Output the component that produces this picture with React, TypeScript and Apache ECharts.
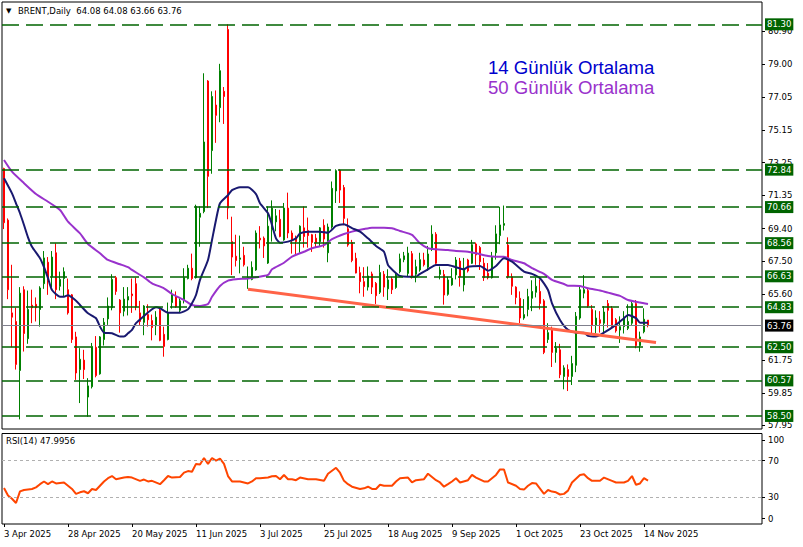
import React, { useEffect, useRef } from 'react';
import * as echarts from 'echarts';

// ---- data ----
// candles: [open, close, low, high]
const candles: number[][] = [
  [72.9, 69.75, 69.38, 72.95], [69.9, 65.85, 65.3, 70.0], [64.5, 64.25, 62.5, 67.3], [64.0, 61.5, 61.2, 64.8],
  [61.15, 65.65, 58.3, 66.0], [65.85, 63.3, 62.25, 66.05], [63.0, 64.7, 62.7, 65.8], [64.95, 64.8, 63.9, 65.85],
  [65.0, 64.8, 64.0, 65.4], [64.7, 65.95, 63.7, 66.05], [66.2, 67.7, 65.9, 68.1], [67.45, 66.4, 65.55, 67.75],
  [66.6, 67.75, 66.0, 68.1], [68.0, 65.85, 65.3, 68.55], [66.05, 66.45, 65.8, 66.9], [66.5, 66.9, 65.45, 67.15],
  [65.85, 64.5, 64.4, 66.5], [65.55, 62.95, 62.75, 65.6], [63.1, 61.0, 60.6, 63.4], [61.2, 61.8, 59.25, 62.45],
  [61.75, 61.2, 60.65, 62.35], [59.6, 60.25, 58.45, 60.7], [60.2, 62.55, 60.1, 62.75], [62.5, 60.85, 60.75, 63.15],
  [60.95, 63.1, 60.9, 63.15], [62.95, 63.95, 62.6, 64.2], [64.15, 64.9, 63.8, 65.4], [64.8, 66.45, 64.65, 66.75],
  [66.55, 65.75, 65.55, 66.65], [65.25, 64.5, 63.35, 65.3], [64.6, 65.3, 64.3, 66.0], [65.25, 65.45, 64.35, 66.0],
  [65.6, 65.5, 64.5, 66.5], [66.2, 64.85, 64.65, 66.55], [64.5, 64.0, 63.8, 65.2], [63.95, 64.9, 63.2, 64.95],
  [64.4, 64.1, 63.7, 65.0], [64.05, 63.65, 62.9, 64.4], [63.75, 64.25, 63.2, 64.6], [64.65, 62.9, 62.85, 64.85],
  [63.25, 62.55, 61.95, 63.7], [62.95, 64.5, 62.9, 65.1], [65.1, 65.55, 64.75, 65.85], [65.45, 64.85, 64.8, 65.75],
  [64.65, 65.2, 64.55, 65.35], [65.25, 66.55, 65.05, 67.1], [66.5, 67.1, 66.45, 67.3], [67.1, 66.5, 66.4, 67.95],
  [66.55, 70.7, 66.5, 70.8], [70.07, 70.3, 68.35, 70.7], [70.4, 74.45, 70.3, 78.45], [78.0, 72.45, 70.6, 78.05],
  [73.95, 77.1, 72.6, 77.4], [76.6, 76.0, 74.4, 77.45], [76.45, 78.6, 75.6, 79.0], [77.4, 77.1, 75.5, 77.65],
  [81.0, 70.6, 69.95, 81.3], [68.65, 67.75, 66.7, 70.1], [67.8, 67.55, 67.2, 69.05], [67.62, 67.7, 66.8, 69.0],
  [67.85, 67.3, 67.2, 68.35], [66.5, 66.55, 65.9, 67.2], [66.45, 67.15, 66.4, 67.5], [67.0, 69.15, 66.95, 69.3],
  [68.85, 68.75, 68.25, 69.55], [68.85, 68.4, 67.7, 68.95], [67.4, 69.55, 67.35, 70.7], [69.35, 70.6, 68.65, 71.05],
  [69.8, 70.15, 69.25, 70.55], [69.95, 68.95, 68.9, 70.5], [68.75, 70.6, 68.7, 70.9], [70.6, 69.15, 68.85, 71.5],
  [69.15, 68.75, 67.95, 69.3], [68.8, 68.65, 67.9, 69.0], [68.7, 69.55, 68.0, 69.6], [69.45, 68.95, 68.3, 70.7],
  [69.3, 69.0, 68.3, 70.05], [69.05, 68.6, 68.05, 69.1], [68.85, 68.6, 68.3, 69.1], [68.65, 69.45, 68.35, 69.5],
  [69.6, 68.8, 68.3, 69.95], [68.0, 69.5, 67.45, 69.7], [69.5, 71.75, 69.4, 72.15], [71.6, 72.78, 70.9, 72.86],
  [72.8, 71.65, 70.9, 72.86], [71.8, 70.0, 69.6, 71.95], [69.4, 68.45, 68.35, 70.0], [68.6, 67.55, 67.45, 68.75],
  [67.68, 66.82, 66.8, 68.0], [66.84, 66.32, 65.64, 67.19], [66.32, 66.03, 65.44, 67.16], [66.0, 66.65, 65.8, 67.2],
  [66.77, 66.0, 65.6, 66.9], [66.22, 65.5, 65.02, 66.3], [65.7, 66.85, 65.6, 67.3], [66.75, 66.0, 65.44, 66.94],
  [65.9, 66.42, 65.25, 67.04], [66.47, 65.85, 65.6, 66.6], [65.98, 66.7, 65.9, 66.85], [66.9, 67.65, 66.8, 67.95],
  [67.6, 67.82, 67.45, 68.05], [66.8, 67.98, 66.6, 68.35], [67.95, 66.61, 66.5, 68.1], [66.75, 67.19, 66.28, 67.6],
  [67.0, 67.6, 66.9, 68.0], [67.58, 67.3, 67.2, 68.0], [67.16, 67.93, 66.95, 68.4], [68.26, 69.08, 68.1, 69.6],
  [69.08, 67.39, 67.3, 69.2], [66.74, 67.0, 66.45, 67.2], [66.74, 65.54, 64.98, 67.0], [65.58, 66.42, 65.5, 66.6],
  [66.13, 66.52, 66.08, 67.1], [66.71, 67.58, 66.45, 67.75], [67.52, 66.61, 66.03, 67.7], [66.13, 67.1, 65.75, 67.7],
  [67.58, 66.94, 66.85, 67.65], [67.39, 68.47, 67.35, 68.75], [68.51, 67.87, 67.3, 68.6], [68.31, 67.48, 67.0, 68.4],
  [67.39, 66.55, 66.36, 67.7], [66.81, 66.55, 66.45, 67.4], [66.55, 67.77, 66.5, 68.05], [68.0, 69.1, 67.6, 69.6],
  [69.0, 69.62, 68.5, 70.68], [69.6, 69.7, 69.3, 70.75], [68.45, 66.6, 66.5, 68.9], [66.6, 66.05, 65.55, 66.8],
  [66.0, 65.4, 65.0, 66.05], [65.35, 64.2, 63.9, 65.75], [64.2, 64.4, 64.1, 65.3], [64.7, 65.45, 64.3, 65.9],
  [65.35, 65.75, 64.6, 66.4], [65.7, 66.05, 65.4, 66.55], [65.75, 65.05, 64.7, 66.45], [65.2, 62.2, 62.1, 65.3],
  [62.95, 63.35, 62.75, 63.9], [63.5, 62.2, 61.35, 63.7], [62.2, 62.45, 61.6, 62.8], [62.35, 60.9, 60.7, 62.7],
  [60.8, 61.3, 60.05, 61.45], [61.2, 60.8, 59.95, 61.5], [60.8, 61.55, 60.3, 62.0], [61.45, 64.3, 61.05, 64.55],
  [64.2, 65.85, 64.1, 66.05], [65.65, 65.85, 65.35, 66.7], [65.8, 64.9, 64.8, 65.95], [64.7, 63.8, 63.3, 64.95],
  [63.8, 64.2, 63.3, 64.65], [64.1, 63.9, 63.35, 64.6], [63.9, 64.55, 63.35, 64.9], [65.05, 64.65, 63.65, 65.25],
  [64.75, 63.7, 63.6, 64.9], [64.1, 63.45, 63.35, 64.2], [63.5, 63.7, 62.75, 64.3], [63.7, 64.2, 63.3, 64.6],
  [63.6, 64.0, 63.5, 65.0], [63.9, 65.04, 63.8, 65.2], [65.04, 62.6, 62.44, 65.25], [62.6, 63.1, 62.24, 63.41],
  [63.4, 64.13, 63.31, 64.77], [64.08, 63.76, 63.66, 64.08],
];

// 14-day average, read at bar indices: [bar, value]
const ma14: number[][] = [
  [0, 72.34], [2, 71.46], [3, 70.88], [4, 70.3], [5, 69.62], [6, 68.9], [7, 68.35], [9, 67.68], [10, 67.16],
  [11, 66.52], [12, 65.83], [14, 65.44], [15, 65.44], [16, 65.53], [18, 65.21], [19, 64.96], [21, 64.48],
  [23, 64.19], [24, 63.7], [25, 63.35], [27, 63.31], [29, 63.12], [30, 63.12], [31, 63.31], [32, 63.51],
  [33, 63.9], [35, 64.32], [37, 64.71], [38, 64.83], [39, 64.77], [41, 64.51], [42, 64.51], [44, 64.51],
  [46, 64.71], [47, 65.06], [48, 65.54], [49, 66.42], [51, 67.58], [52, 68.74], [53, 69.91], [54, 70.88],
  [56, 71.36], [57, 71.65], [59, 71.81], [61, 71.81], [63, 71.42], [64, 70.88], [66, 70.3], [67, 69.62],
  [68, 68.84], [69, 68.59], [71, 68.65], [73, 68.84], [74, 69.13], [76, 69.23], [79, 69.23], [81, 69.17],
  [83, 69.56], [85, 69.66], [87, 69.43], [89, 69.23], [91, 68.84], [93, 68.4], [95, 68.06], [96, 67.29],
  [98, 66.81], [99, 66.65], [101, 66.61], [103, 66.61], [104, 66.77], [106, 67.04], [108, 67.29], [111, 67.29],
  [113, 67.16], [115, 67.04], [116, 67.19], [119, 67.23], [121, 66.96], [123, 67.23], [125, 67.68], [127, 67.48],
  [130, 66.9], [132, 66.77], [134, 66.52], [136, 65.83], [137, 65.06], [139, 64.09], [141, 63.51], [143, 63.35],
  [145, 63.35], [146, 63.16], [148, 63.12], [150, 63.35], [153, 63.8], [155, 64.19], [156, 64.38], [158, 64.19],
  [159, 63.93], [161, 63.93],
];

// 50-day average, read at bar indices: [bar, value]
const ma50: number[][] = [
  [0, 73.4], [2, 72.72], [5, 72.05], [8, 71.42], [11, 70.97], [14, 70.49], [16, 69.81], [19, 69.13], [21, 68.51],
  [24, 67.97], [26, 67.58], [29, 67.33], [31, 67.16], [32, 67.0], [35, 66.57], [37, 66.22], [40, 65.93],
  [42, 65.6], [45, 65.25], [47, 64.96], [49, 64.9], [51, 65.02], [52, 65.44], [54, 66.07], [56, 66.38],
  [58, 66.46], [61, 66.5], [63, 66.57], [66, 66.71], [67, 67.04], [70, 67.42], [72, 67.77], [75, 68.06],
  [77, 68.26], [80, 68.45], [82, 68.79], [85, 69.09], [87, 69.23], [90, 69.38], [92, 69.46], [95, 69.46],
  [97, 69.43], [99, 69.27], [102, 69.04], [104, 68.55], [106, 68.26], [108, 68.2], [111, 68.16], [113, 68.1],
  [116, 68.06], [118, 67.97], [121, 67.81], [123, 67.77], [125, 67.77], [127, 67.58], [130, 67.39], [132, 67.1],
  [135, 66.77], [137, 66.42], [140, 66.18], [141, 66.08], [144, 66.07], [146, 65.93], [149, 65.8], [151, 65.68],
  [154, 65.49], [156, 65.25], [159, 65.1], [161, 65.02],
];

// RSI(14), read at bar indices: [bar, value]
const rsi: number[][] = [
  [0, 39.8], [1, 31.5], [2, 27.9], [3, 23.2], [4, 36.0], [5, 37.6], [7, 38.7], [8, 40.5], [9, 44], [10, 47],
  [11, 44], [12, 47], [13, 44.8], [15, 45.9], [16, 42.3], [17, 38.7], [18, 33.3], [19, 35], [20, 36.2], [21, 34],
  [22, 38.7], [23, 37.6], [24, 42.3], [25, 47], [26, 50.6], [27, 53], [28, 49.5], [30, 51.3], [31, 52],
  [32, 51.3], [34, 47.7], [35, 49.1], [36, 47], [37, 47.7], [39, 44], [40, 48.4], [41, 53], [42, 51.3],
  [44, 52], [45, 56.7], [46, 58.5], [47, 57.8], [48, 66.4], [49, 65.7], [50, 72.9], [51, 66.4], [52, 72.9],
  [53, 70], [54, 72.2], [55, 66.4], [56, 53], [57, 47], [58, 47], [59, 47], [61, 44.8], [62, 47], [63, 50.6],
  [64, 50.6], [66, 51.3], [67, 52.7], [68, 53], [69, 49.5], [70, 54.2], [71, 49.5], [72, 49.5], [73, 48.4],
  [74, 51.3], [76, 49.5], [77, 49.5], [78, 49.5], [80, 47.7], [81, 55.6], [83, 62.1], [84, 56.7], [85, 47.7],
  [86, 44], [87, 41.2], [89, 38.7], [90, 39.4], [91, 41.2], [92, 38.7], [93, 38.7], [94, 43.4], [95, 42.3],
  [97, 42.3], [98, 47], [99, 50.6], [101, 51.3], [102, 45.9], [103, 48.4], [105, 49.5], [106, 55.6], [108, 48.4],
  [109, 45.9], [110, 41.2], [111, 44], [112, 47], [113, 50.6], [114, 45.9], [116, 48.4], [117, 54.2], [118, 51.3],
  [120, 47], [121, 47], [123, 54.2], [124, 60.3], [125, 60.3], [126, 45.9], [128, 42.3], [129, 38.7], [130, 38],
  [131, 42.3], [132, 45.2], [133, 44.8], [135, 33.3], [136, 37.6], [137, 35.8], [138, 35], [139, 32.6], [140, 33.3],
  [141, 36.9], [142, 45.9], [144, 54.2], [145, 54.9], [146, 50.6], [147, 47.7], [149, 47.7], [150, 51.3],
  [152, 47.7], [153, 45.9], [155, 45.9], [156, 47.7], [157, 53], [158, 43.4], [159, 44.8], [160, 50.6], [161, 48.0],
];
const rsiLast = '47.9956';

// trend line end points: [bar, price]
const trendLine: number[][] = [[61, 65.88], [163, 62.77]];

// horizontal levels
const levels = [81.3, 72.84, 70.66, 68.56, 66.63, 64.83, 62.5, 60.57, 58.5];
const lastPrice = 63.76;

// axis tick labels (63.65 sits fully under the 63.76 price box in the reference)
const priceTicks = [80.9, 79.0, 77.05, 75.15, 73.25, 71.35, 69.4, 67.5, 65.6, 61.75, 59.85, 57.95];
const rsiTickPos = [6, 30, 70, 93];
const rsiTickLabels = ['0', '30', '70', '100'];

const MONTHS = ['Jan', 'Feb', 'Mar', 'Apr', 'May', 'Jun', 'Jul', 'Aug', 'Sep', 'Oct', 'Nov', 'Dec'];
const HOLIDAYS = ['2025-04-18'];
const SLOT_COUNT = 190;
const LABEL_STEP = 16;

function buildDates(): string[] {
  const out: string[] = [];
  const d = new Date(Date.UTC(2025, 3, 3));
  while (out.length < SLOT_COUNT) {
    const wd = d.getUTCDay();
    const iso = d.toISOString().slice(0, 10);
    if (wd !== 0 && wd !== 6 && !HOLIDAYS.includes(iso)) {
      out.push(`${d.getUTCDate()} ${MONTHS[d.getUTCMonth()]} ${d.getUTCFullYear()}`);
    }
    d.setUTCDate(d.getUTCDate() + 1);
  }
  return out;
}

const FONT = 'DejaVu Sans';
const UP = '#008000';
const DOWN = '#ff0000';
const LEVEL = '#006400';

export default function App() {
  const ref = useRef<HTMLDivElement>(null);

  useEffect(() => {
    if (!ref.current) return;
    const chart = echarts.init(ref.current, null, { renderer: 'svg' });
    const dates = buildDates();
    const lastIdx = candles.length - 1;
    const showLabel = (idx: number) => idx % LABEL_STEP === 0 && idx <= lastIdx;
    const last = candles[lastIdx];
    const header = `BRENT,Daily  ${last[0].toFixed(2)} ${last[3].toFixed(2)} ${last[2].toFixed(2)} ${last[1].toFixed(2)}`;

    const option: any = {
      animation: false,
      backgroundColor: '#ffffff',
      grid: [
        { left: 2, top: 2, width: 760, height: 427, show: true, borderColor: '#000', borderWidth: 1, backgroundColor: '#fff' },
        { left: 2, top: 433.5, width: 760, height: 90.5, show: true, borderColor: '#000', borderWidth: 1, backgroundColor: '#fff' },
      ],
      xAxis: [
        {
          type: 'category', gridIndex: 0, data: dates, boundaryGap: true,
          axisLine: { show: false }, axisTick: { show: false }, axisLabel: { show: false }, splitLine: { show: false },
        },
        {
          type: 'category', gridIndex: 1, data: dates, boundaryGap: true,
          axisLine: { show: false },
          axisTick: { show: true, interval: (i: number) => showLabel(i), alignWithLabel: true, length: 3, lineStyle: { color: '#000' } },
          axisLabel: {
            show: true, interval: (i: number) => showLabel(i), align: 'left', margin: 5,
            color: '#000', fontFamily: FONT, fontSize: 8.5,
          },
          splitLine: { show: false },
        },
      ],
      yAxis: [
        {
          type: 'value', gridIndex: 0, position: 'right', min: 57.74, max: 82.6,
          splitLine: { show: false }, axisLine: { show: false },
          axisTick: { show: true, customValues: priceTicks, length: 3, lineStyle: { color: '#000' } },
          axisLabel: {
            show: true, customValues: priceTicks, formatter: (v: number) => v.toFixed(2), margin: 6,
            color: '#000', fontFamily: FONT, fontSize: 8.5,
          },
        },
        {
          type: 'value', gridIndex: 1, position: 'right', min: 0, max: 100,
          splitLine: { show: false }, axisLine: { show: false },
          axisTick: { show: true, customValues: rsiTickPos, length: 3, lineStyle: { color: '#000' } },
          axisLabel: {
            show: true, customValues: rsiTickPos, margin: 6,
            formatter: (v: number) => rsiTickLabels[rsiTickPos.indexOf(v)] ?? '',
            color: '#000', fontFamily: FONT, fontSize: 8.5,
          },
        },
      ],
      series: [
        {
          type: 'candlestick', xAxisIndex: 0, yAxisIndex: 0, barWidth: 2,
          data: candles,
          itemStyle: { color: UP, color0: DOWN, borderColor: UP, borderColor0: DOWN, borderWidth: 1 },
          markLine: {
            silent: true, symbol: ['none', 'none'], animation: false,
            lineStyle: { color: LEVEL, type: [17, 7], width: 1.5 },
            label: {
              show: true, position: 'end', distance: 3,
              formatter: (p: any) => Number(p.value).toFixed(2),
              color: '#fff', backgroundColor: LEVEL, padding: [2, 2, 1, 2],
              fontFamily: FONT, fontSize: 8.5,
            },
            data: [
              ...levels.map((v) => ({ yAxis: v })),
              {
                yAxis: lastPrice,
                lineStyle: { color: '#7f7f8c', type: 'solid', width: 1 },
                label: { backgroundColor: '#000', color: '#fff' },
              },
            ],
          },
        },
        {
          type: 'line', xAxisIndex: 0, yAxisIndex: 0, data: ma50, showSymbol: false, smooth: 0.2,
          lineStyle: { color: '#9932cc', width: 2 }, z: 3,
        },
        {
          type: 'line', xAxisIndex: 0, yAxisIndex: 0, data: ma14, showSymbol: false, smooth: 0.2,
          lineStyle: { color: '#191970', width: 2 }, z: 3,
        },
        {
          type: 'line', xAxisIndex: 0, yAxisIndex: 0, data: trendLine, showSymbol: false,
          lineStyle: { color: '#ff6347', width: 3 }, z: 4,
        },
        {
          type: 'line', xAxisIndex: 1, yAxisIndex: 1, data: rsi, showSymbol: false,
          lineStyle: { color: '#ff4500', width: 2 },
          markLine: {
            silent: true, symbol: ['none', 'none'], animation: false,
            lineStyle: { color: '#b0b0b0', type: [3, 3], width: 1 },
            label: { show: false },
            data: [{ yAxis: 70 }, { yAxis: 30 }],
          },
        },
      ],
      graphic: [
        { type: 'text', x: 6, y: 11, style: { text: '▼', font: `7px "${FONT}"`, fill: '#000', verticalAlign: 'middle' } },
        { type: 'text', x: 18, y: 11, style: { text: header, font: `8.5px "${FONT}"`, fill: '#000', verticalAlign: 'middle' } },
        { type: 'text', x: 488, y: 67, style: { text: '14 Günlük Ortalama', font: '18.6px "Liberation Sans"', fill: '#0000cd', verticalAlign: 'middle' } },
        { type: 'text', x: 488, y: 87, style: { text: '50 Günlük Ortalama', font: '18.6px "Liberation Sans"', fill: '#9932cc', verticalAlign: 'middle' } },
        { type: 'text', x: 6, y: 441, style: { text: `RSI(14) ${rsiLast}`, font: `8.5px "${FONT}"`, fill: '#000', verticalAlign: 'middle' } },
      ],
    };

    chart.setOption(option);
    return () => chart.dispose();
  }, []);

  return (
    <div
      ref={ref}
      style={{ position: 'fixed', left: 0, top: 0, width: 803, height: 547, background: '#fff' }}
    />
  );
}
